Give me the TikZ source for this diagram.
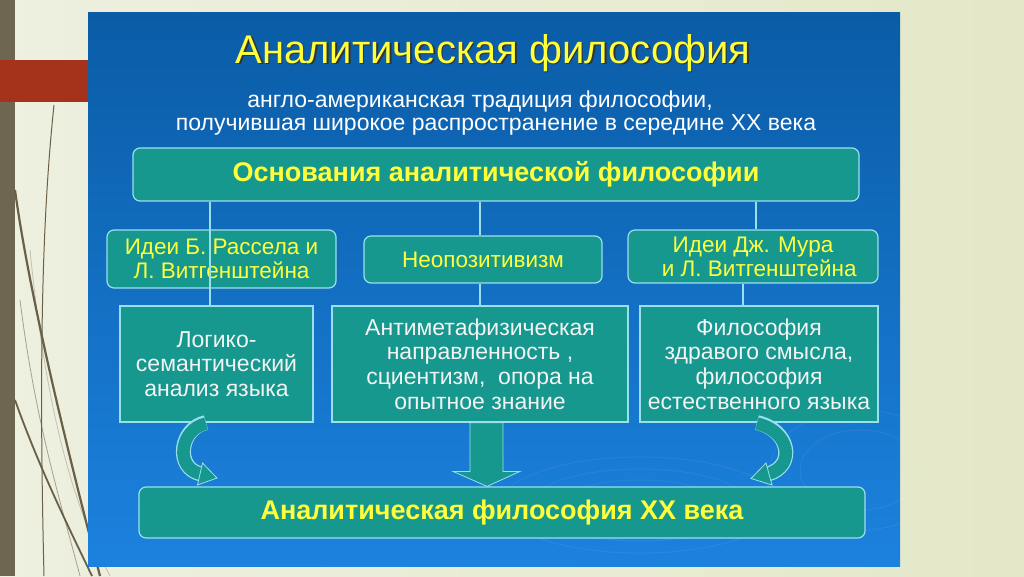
\documentclass[tikz,border=0pt]{standalone}
\usepackage{fontspec}
\setmainfont{Liberation Sans}
\usetikzlibrary{calc}
\definecolor{bgL}{HTML}{EEF0E0}
\definecolor{bgR}{HTML}{E4E8C8}
\definecolor{brownbar}{HTML}{6E6650}
\definecolor{brownline}{HTML}{6A6048}
\definecolor{redbar}{HTML}{A5321B}
\definecolor{panelTop}{HTML}{0A5CA6}
\definecolor{panelBot}{HTML}{1C82DE}
\definecolor{boxfill}{HTML}{17988F}
\definecolor{boxline}{HTML}{9ADFEE}
\definecolor{ytext}{HTML}{FFFF3C}
\definecolor{wtext}{HTML}{F2F4F4}
\tikzset{
  rbox/.style={draw=boxline, line width=1.2pt, fill=boxfill, rounded corners=7pt, align=center, inner sep=0pt, text=ytext},
  sbox/.style={draw=boxline, line width=1.2pt, fill=boxfill, align=center, inner sep=0pt, text=wtext},
  conn/.style={draw=boxline, line width=1.2pt},
  blockarrow/.style={fill=boxfill, draw=boxline, line width=0.8pt, line join=miter},
  fnbig/.style={font=\bfseries\fontsize{27}{31}\selectfont},
  fnrow/.style={font=\fontsize{22.5}{24}\selectfont},
  fnmid/.style={font=\fontsize{23}{24.7}\selectfont},
  fnsub/.style={font=\fontsize{23}{26}\selectfont},
}
\begin{document}
\begin{tikzpicture}[x=1pt,y=-1pt]
\useasboundingbox (0,0) rectangle (1024,576);
% slide background
\fill[left color=bgL, right color=bgR] (0,0) rectangle (1024,576);
\fill[brownbar] (0,0) rectangle (15,576);
\draw[brownline!60, line width=0.8pt] (20,300) .. controls (35,420) and (60,500) .. (80,576);
\draw[brownline!40, line width=0.8pt] (30,250) .. controls (45,400) and (70,500) .. (110,576);
\draw[brownline, line width=1pt] (54,105) .. controls (44,200) and (38,330) .. (44,576);
\draw[brownline, line width=2.2pt] (15,190) .. controls (30,300) and (70,460) .. (100,576);
\draw[brownline, line width=1.8pt] (15,400) .. controls (40,470) and (70,530) .. (92,576);
\fill[redbar] (0,60) rectangle (88,102);
% panel
\shade[top color=panelTop, bottom color=panelBot] (88,12) rectangle (900,566);
\begin{scope}[white, opacity=0.06, line width=1pt]
\draw (640,505) ellipse (140 and 48);
\draw (640,505) ellipse (110 and 36);
\draw (640,505) ellipse (80 and 25);
\draw (860,470) ellipse (90 and 60);
\draw (860,470) ellipse (60 and 40);
\end{scope}
% title
\node[text=black!80, font=\fontsize{40}{46}\selectfont] (titlesh) at (494.5,54.5) {Аналитическая философия};
\node[text=ytext, font=\fontsize{40}{46}\selectfont] (title) at (493,53) {Аналитическая философия};
\node[text=white, fnsub] (sub1) at (480,102) {англо-американская традиция философии,};
\node[text=white, fnsub] (sub2) at (496,125) {получившая широкое распространение в середине XX века};
% x positions of the connectors
\coordinate (xL) at (210,0);
\coordinate (xM) at (480,0);
\coordinate (xR1) at (756,0);
\coordinate (xR2) at (743,0);
% boxes
\node[rbox, minimum width=726pt, minimum height=53pt, fnbig] (base) at (496,174.5) {Основания аналитической философии};
\node[rbox, minimum width=229pt, minimum height=58pt, fnrow] (idL) at (221.5,259) {Идеи Б. Рассела и\\Л. Витгенштейна};
\node[rbox, minimum width=238pt, minimum height=47pt, fnrow] (idM) at (483,259.5) {Неопозитивизм};
\node[rbox, minimum width=250pt, minimum height=53pt, fnrow] (idR) at (753,256.5) {Идеи Дж. Мура\\\ \ и Л. Витгенштейна};
\node[sbox, minimum width=193pt, minimum height=116pt, fnmid] (cL) at (216.5,364) {Логико-\\семантический\\анализ языка};
\node[sbox, minimum width=296pt, minimum height=116pt, fnmid] (cM) at (480,364) {Антиметафизическая\\направленность ,\\сциентизм,\ \ опора на\\опытное знание};
\node[sbox, minimum width=238pt, minimum height=116pt, fnmid] (cR) at (759,364) {Философия\\здравого смысла,\\философия\\естественного языка};
\node[rbox, minimum width=726pt, minimum height=51pt, fnbig] (final) at (502,512.5) {Аналитическая философия XX века};
% connectors
\draw[conn] (base.south -| xL) -- (cL.north -| xL);
\draw[conn] (base.south -| xM) -- (idM.north -| xM);
\draw[conn] (idM.south -| xM) -- (cM.north -| xM);
\draw[conn] (base.south -| xR1) -- (idR.north -| xR1);
\draw[conn] (idR.south -| xR2) -- (cR.north -| xR2);
% middle block arrow
\coordinate (ma) at (cM.south -| 487,0);
\coordinate (mb) at (final.north -| 487,0);
\draw[blockarrow] ($(ma)+(-17,0)$) -- ($(ma)+(16,0)$) -- ($(mb)+(16,-15)$) -- ($(mb)+(33,-15)$) -- (mb) -- ($(mb)+(-34,-15)$) -- ($(mb)+(-17,-15)$) -- cycle;
% left curved arrow
\coordinate (la) at (cL.south -| 206,0);
\draw[boxline, line width=15pt] (la) .. controls (180,428) and (174,468) .. (201,474);
\draw[boxfill, line width=12.5pt] ($(la)+(0,1)$) .. controls (180,429) and (174,468) .. (201,474);
\coordinate (lt) at (217,478);
\draw[blockarrow] (lt) -- (197.5,485) -- (202.5,463) -- cycle;
% right curved arrow
\coordinate (ra) at (cR.south -| 757,0);
\draw[boxline, line width=15pt] (ra) .. controls (790,430) and (796,466) .. (768,474);
\draw[boxfill, line width=12.5pt] ($(ra)+(0,1)$) .. controls (790,431) and (796,466) .. (768,474);
\coordinate (rt) at (751,478.5);
\draw[blockarrow] (rt) -- (772,485) -- (766,463) -- cycle;
\end{tikzpicture}
\end{document}
